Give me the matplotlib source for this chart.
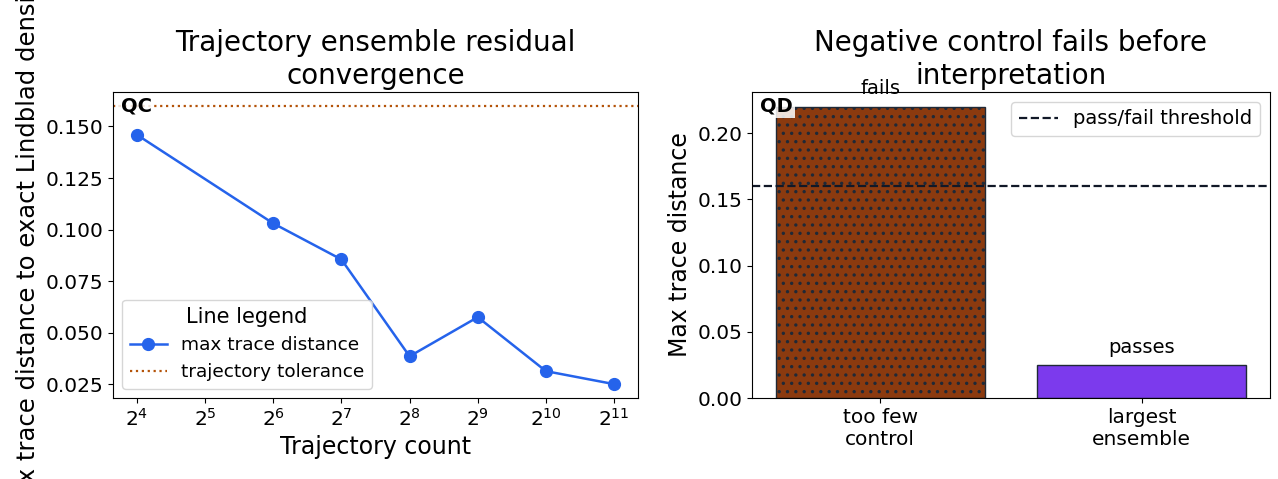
import matplotlib
matplotlib.use("Agg")
import matplotlib.pyplot as plt
from matplotlib.ticker import MultipleLocator, FormatStrFormatter

plt.rcParams["hatch.linewidth"] = 1.2

# Data
traj_counts = [16, 64, 128, 256, 512, 1024, 2048]
max_trace = [0.146, 0.103, 0.0855, 0.0385, 0.0575, 0.0313, 0.025]
tolerance = 0.16

bar_labels = ["too few\ncontrol", "largest\nensemble"]
bar_values = [0.22, 0.025]
bar_status = ["fails", "passes"]
threshold = 0.16

fig = plt.figure(figsize=(12.78, 4.79), dpi=100)
ax1 = fig.add_axes([0.0884, 0.169, 0.4108, 0.639])
ax2 = fig.add_axes([0.5884, 0.169, 0.4053, 0.639])

# Left panel
ax1.plot(traj_counts, max_trace, marker="o", color="#2563EB", lw=1.8, ms=8.5,
         label="max trace distance")
ax1.axhline(tolerance, color="#B45309", ls=":", lw=1.6, label="trajectory tolerance")
ax1.set_xscale("log", base=2)
ax1.yaxis.set_major_locator(MultipleLocator(0.025))
ax1.yaxis.set_major_formatter(FormatStrFormatter("%.3f"))
ax1.set_xlabel("Trajectory count", fontsize=17)
ax1.set_ylabel("Max trace distance to exact Lindblad density", fontsize=17.5)
ax1.set_title("Trajectory ensemble residual\nconvergence", fontsize=20)
ax1.tick_params(labelsize=14.5)
ax1.legend(loc="lower left", title="Line legend", fontsize=13.3, title_fontsize=15)
ax1.text(0.015, 0.985, "QC", transform=ax1.transAxes, fontsize=14, fontweight="bold",
         va="top", ha="left",
         bbox=dict(facecolor="white", edgecolor="none", alpha=0.85, pad=1.5))

# Right panel
x = range(len(bar_labels))
bars = ax2.bar(x, bar_values, width=0.8, color=["#8B3A0F", "#7C3AED"],
               edgecolor="#1f2937", linewidth=1)
bars[0].set_hatch("..")
ax2.axhline(threshold, color="#111827", ls="--", lw=1.6, label="pass/fail threshold")
for b, s in zip(bars, bar_status):
    ax2.annotate(s, (b.get_x() + b.get_width() / 2, b.get_height()),
                 xytext=(0, 6), textcoords="offset points",
                 ha="center", va="bottom", fontsize=14)
ax2.set_xticks(list(x))
ax2.set_xticklabels(bar_labels)
ax2.set_ylabel("Max trace distance", fontsize=17)
ax2.set_title("Negative control fails before\ninterpretation", fontsize=20)
ax2.tick_params(labelsize=14.5)
ax2.legend(loc="upper right", fontsize=14)
ax2.text(0.015, 0.985, "QD", transform=ax2.transAxes, fontsize=14, fontweight="bold",
         va="top", ha="left",
         bbox=dict(facecolor="white", edgecolor="none", alpha=0.85, pad=1.5))

fig.savefig("out.png", dpi=100)
